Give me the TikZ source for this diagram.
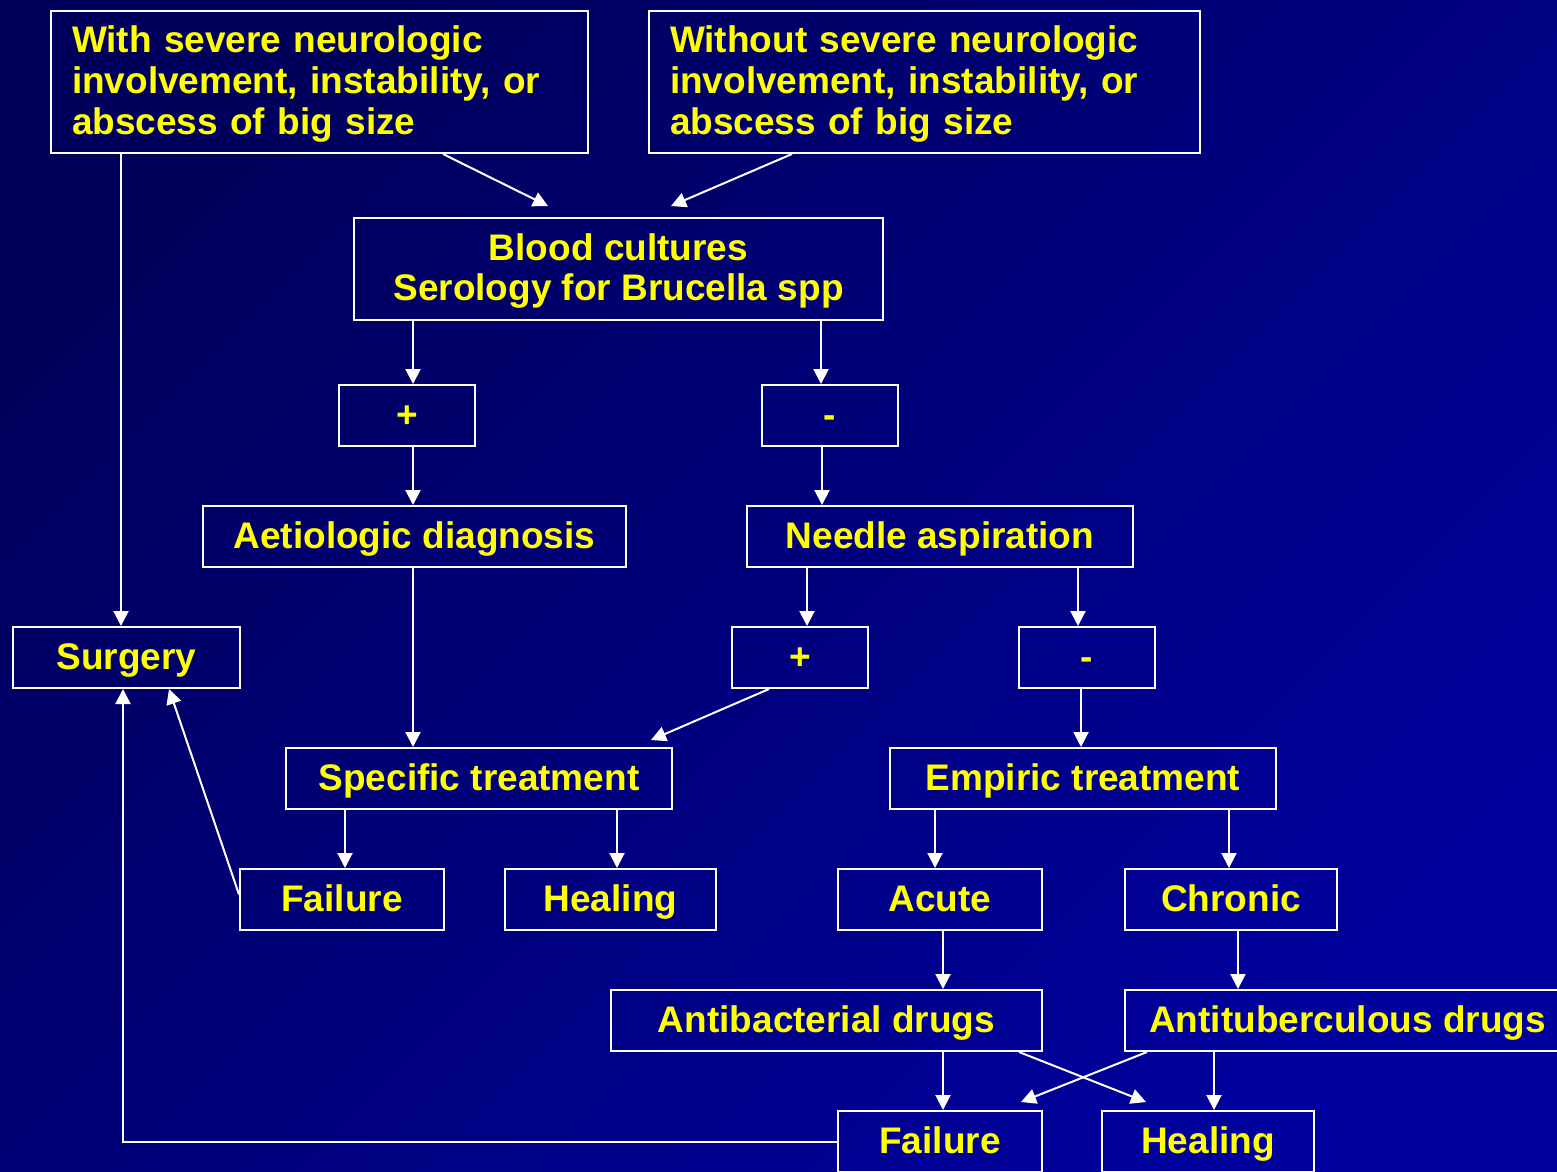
\documentclass[tikz,border=0pt]{standalone}
\usepackage{fontspec}
\setmainfont{Liberation Sans}
\usetikzlibrary{arrows.meta}
\definecolor{bgdark}{HTML}{00005C}
\definecolor{bglight}{HTML}{00009C}
\definecolor{txt}{HTML}{FFFF00}
\tikzset{
  box/.style={draw=white, line width=2pt, inner sep=0pt, text=txt,
    font=\bfseries\fontsize{37}{41}\selectfont, minimum height=61pt},
  onebox/.style={box, text height=27pt, text depth=3pt},
  arr/.style={draw=white, line width=2pt, -{Triangle[length=15pt,width=15pt]}}
}
\begin{document}
\begin{tikzpicture}[x=1pt,y=-1pt]
\useasboundingbox (0,0) rectangle (1557,1171);
\shade[top color=bgdark, bottom color=bglight, shading angle=45] (0,0) rectangle (1557,1171);

\node[box, minimum height=142pt, text width=495pt, inner xsep=21pt, align=left] (w1) at (319.5,82)
  {\rule{0pt}{30pt}With severe neurologic\\involvement, instability, or\\abscess of big size};
\node[box, minimum height=142pt, text width=509pt, inner xsep=21pt, align=left] (w2) at (924.5,82)
  {\rule{0pt}{30pt}Without severe neurologic\\involvement, instability, or\\abscess of big size};
\node[box, minimum width=529pt, minimum height=102pt, align=center,
  font=\bfseries\fontsize{37}{40}\selectfont] (blood) at (618.5,269)
  {\rule{0pt}{31pt}Blood cultures\\Serology for Brucella spp};
\node[onebox, minimum width=136pt] (p1) at (407,415.5) {+};
\node[onebox, minimum width=136pt] (m1) at (830,415.5) {-};
\node[onebox, minimum width=423pt] (aet) at (414.5,536.5) {Aetiologic diagnosis};
\node[onebox, minimum width=386pt] (nee) at (940,536.5) {Needle aspiration};
\node[onebox, minimum width=227pt] (sur) at (126.5,657.5) {Surgery};
\node[onebox, minimum width=136pt] (p2) at (800,657.5) {+};
\node[onebox, minimum width=136pt] (m2) at (1087,657.5) {-};
\node[onebox, minimum width=386pt] (spe) at (479,778.5) {Specific treatment};
\node[onebox, minimum width=386pt] (emp) at (1083,778.5) {Empiric treatment};
\node[onebox, minimum width=204pt] (f1) at (342,899.5) {Failure};
\node[onebox, minimum width=211pt] (h1) at (610.5,899.5) {Healing};
\node[onebox, minimum width=204pt] (acu) at (940,899.5) {Acute};
\node[onebox, minimum width=212pt] (chr) at (1231,899.5) {Chronic};
\node[onebox, minimum width=431pt] (ab) at (826.5,1020.5) {Antibacterial drugs};
\node[onebox, minimum width=445pt] (at) at (1347.5,1020.5) {Antituberculous drugs};
\node[onebox, minimum width=204pt] (f2) at (940,1141.5) {Failure};
\node[onebox, minimum width=212pt] (h2) at (1208,1141.5) {Healing};

\draw[arr] ([xshift=71pt]w1.south west) -- ([xshift=109pt]sur.north west);
\draw[arr] ([xshift=393pt]w1.south west) -- ([xshift=195pt,yshift=11pt]blood.north west);
\draw[arr] ([xshift=144pt]w2.south west) -- ([xshift=318pt,yshift=11pt]blood.north west);
\draw[arr] ([xshift=60pt]blood.south west) -- ([xshift=75pt]p1.north west);
\draw[arr] ([xshift=468pt]blood.south west) -- ([xshift=60pt]m1.north west);
\draw[arr] ([xshift=75pt]p1.south west) -- ([xshift=211pt]aet.north west);
\draw[arr] ([xshift=61pt]m1.south west) -- ([xshift=76pt]nee.north west);
\draw[arr] ([xshift=211pt]aet.south west) -- ([xshift=128pt]spe.north west);
\draw[arr] ([xshift=61pt]nee.south west) -- ([xshift=76pt]p2.north west);
\draw[arr] ([xshift=332pt]nee.south west) -- ([xshift=60pt]m2.north west);
\draw[arr] ([xshift=38pt]p2.south west) -- ([xshift=-22pt,yshift=7pt]spe.north east);
\draw[arr] ([xshift=63pt]m2.south west) -- ([xshift=192pt]emp.north west);
\draw[arr] ([xshift=60pt]spe.south west) -- ([xshift=106pt]f1.north west);
\draw[arr] ([xshift=332pt]spe.south west) -- ([xshift=113pt]h1.north west);
\draw[arr] ([yshift=5pt]f1.west) -- ([xshift=157pt]sur.south west);
\draw[arr] ([xshift=46pt]emp.south west) -- ([xshift=98pt]acu.north west);
\draw[arr] ([xshift=340pt]emp.south west) -- ([xshift=105pt]chr.north west);
\draw[arr] ([xshift=106pt]acu.south west) -- ([xshift=333pt]ab.north west);
\draw[arr] ([xshift=114pt]chr.south west) -- ([xshift=114pt]at.north west);
\draw[arr] ([xshift=333pt]ab.south west) -- ([xshift=106pt]f2.north west);
\draw[arr] ([xshift=90pt]at.south west) -- ([xshift=113pt]h2.north west);
\draw[arr] ([xshift=-24pt]ab.south east) -- ([xshift=45pt,yshift=8pt]h2.north west);
\draw[arr] ([xshift=23pt]at.south west) -- ([xshift=-22pt,yshift=8pt]f2.north east);
\draw[arr] (f2.west) -| ([xshift=111pt]sur.south west);
\end{tikzpicture}
\end{document}
